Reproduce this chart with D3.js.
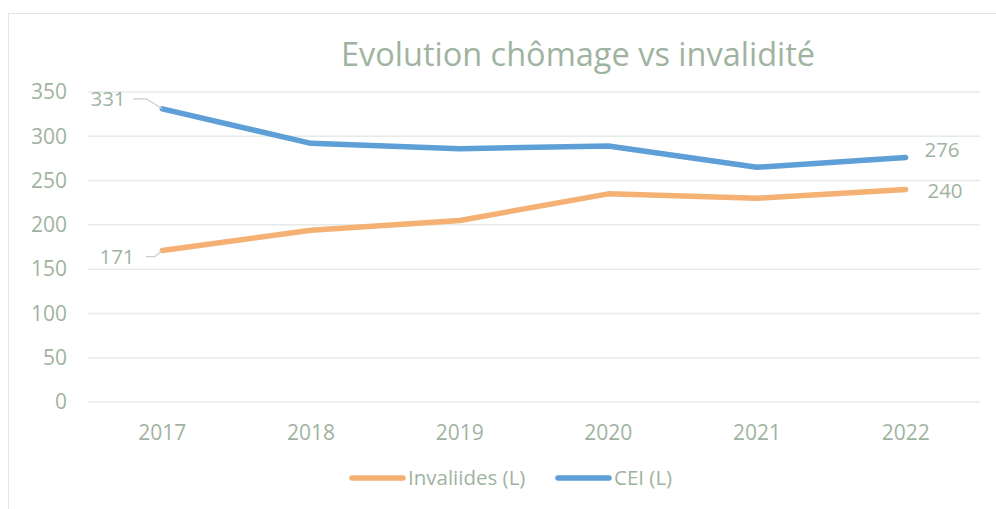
<!DOCTYPE html>
<html>
<head>
<meta charset="utf-8">
<script src="https://cdn.jsdelivr.net/npm/d3@7"></script>
<style>
  body { margin: 0; background: #fff; }
  svg { display: block; }
  text { font-family: "Open Sans", sans-serif; fill: #9fb3a1; }
</style>
</head>
<body>
<svg width="996" height="509"></svg>
<script>
const years = ["2017", "2018", "2019", "2020", "2021", "2022"];
const invalides = [171, 194, 205, 235, 230, 240];
const cei = [331, 292, 286, 289, 265, 276];
const yTicks = [0, 50, 100, 150, 200, 250, 300, 350];
const seriesNames = ["Invaliides (L)", "CEI (L)"];
const seriesColors = ["#f4b173", "#5d9fd6"];

const svg = d3.select("svg");

// chart frame (cut off on right / bottom like the screenshot)
svg.append("rect")
   .attr("x", 8.5).attr("y", 13.5)
   .attr("width", 1100).attr("height", 600)
   .attr("fill", "none")
   .attr("stroke", "#e3e6e5");

const plotLeft = 88, plotRight = 980, plotTop = 92, plotBottom = 402;

const x = d3.scaleBand()
            .domain(years)
            .range([plotLeft, plotRight]);

const y = d3.scaleLinear()
            .domain([0, 350])
            .range([plotBottom, plotTop]);

// gridlines
svg.append("g")
   .selectAll("line")
   .data(yTicks)
   .enter()
   .append("line")
   .attr("x1", plotLeft).attr("x2", plotRight)
   .attr("y1", d => y(d)).attr("y2", d => y(d))
   .attr("stroke", "#e6eae8")
   .attr("stroke-width", 1.5);

// y axis labels
svg.append("g")
   .selectAll("text")
   .data(yTicks)
   .enter()
   .append("text")
   .attr("x", 67)
   .attr("y", d => y(d))
   .attr("dy", "0.35em")
   .attr("text-anchor", "end")
   .style("font-size", "21px")
   .text(d => d);

// x axis labels
svg.append("g")
   .selectAll("text")
   .data(years)
   .enter()
   .append("text")
   .attr("x", d => x(d) + x.bandwidth() / 2)
   .attr("y", 433)
   .attr("dy", "0.35em")
   .attr("text-anchor", "middle")
   .style("font-size", "21px")
   .text(d => d);

// title
svg.append("text")
   .attr("x", 578)
   .attr("y", 55)
   .attr("dy", "0.35em")
   .attr("text-anchor", "middle")
   .style("font-size", "32.5px")
   .text("Evolution chômage vs invalidité");

const line = d3.line()
               .x((d, i) => x(years[i]) + x.bandwidth() / 2)
               .y(d => y(d));

[invalides, cei].forEach((vals, k) => {
  svg.append("path")
     .datum(vals)
     .attr("d", line)
     .attr("fill", "none")
     .attr("stroke", seriesColors[k])
     .attr("stroke-width", 5.5)
     .attr("stroke-linecap", "round")
     .attr("stroke-linejoin", "round");
});

const cx = i => x(years[i]) + x.bandwidth() / 2;

// leader lines for first labels
const leaders = [
  [[133, y(cei[0]) - 10], [146, y(cei[0]) - 10], [cx(0), y(cei[0])]],
  [[146, y(invalides[0]) + 6], [155, y(invalides[0]) + 6], [cx(0), y(invalides[0])]]
];
leaders.forEach(pts => {
  svg.append("path")
     .attr("d", d3.line()(pts))
     .attr("fill", "none")
     .attr("stroke", "#c9ceca")
     .attr("stroke-width", 1.2);
});

// data labels
const labels = [
  { v: cei[0], x: 108, y: y(cei[0]) - 10 },
  { v: invalides[0], x: 117, y: y(invalides[0]) + 6 },
  { v: cei[5], x: 942, y: y(cei[5]) - 8 },
  { v: invalides[5], x: 945, y: y(invalides[5]) + 1 }
];
svg.append("g")
   .selectAll("text")
   .data(labels)
   .enter()
   .append("text")
   .attr("x", d => d.x)
   .attr("y", d => d.y)
   .attr("dy", "0.35em")
   .attr("text-anchor", "middle")
   .style("font-size", "20.5px")
   .text(d => d.v);

// legend
const legendX = [350, 556];
seriesNames.forEach((name, k) => {
  svg.append("line")
     .attr("x1", legendX[k] + 2).attr("x2", legendX[k] + 53)
     .attr("y1", 478).attr("y2", 478)
     .attr("stroke", seriesColors[k])
     .attr("stroke-width", 5.5)
     .attr("stroke-linecap", "round");
  svg.append("text")
     .attr("x", legendX[k] + 58)
     .attr("y", 478)
     .attr("dy", "0.35em")
     .style("font-size", "20.5px")
     .text(name);
});
</script>
</body>
</html>
